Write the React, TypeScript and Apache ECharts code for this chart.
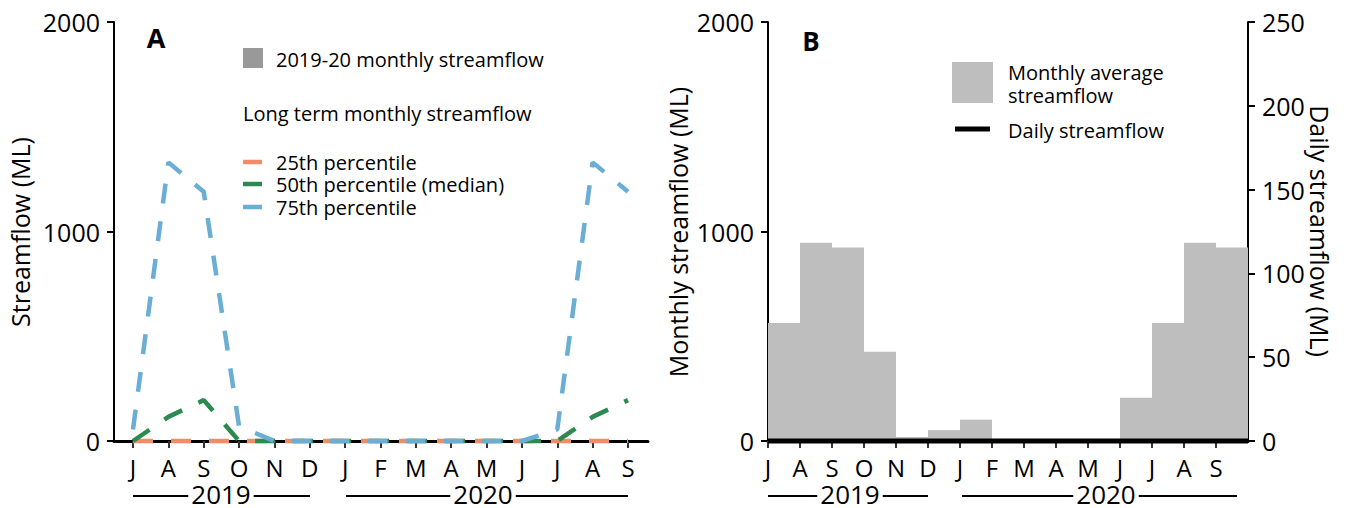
import React, { useEffect, useRef } from "react";
import * as echarts from "echarts";

// ---------- data ----------
const months = ["J", "A", "S", "O", "N", "D", "J", "F", "M", "A", "M", "J", "J", "A", "S"];
// Panel A: long term monthly streamflow percentiles (ML), Jul 2019 .. Sep 2020
const p25 = [0, 0, 0, 0, 0, 0, 0, 0, 0, 0, 0, 0, 0, 0, 0];
const p50 = [0, 115, 195, 0, 0, 0, 0, 0, 0, 0, 0, 0, 0, 115, 195];
const p75 = [55, 1330, 1190, 70, 0, 0, 0, 0, 0, 0, 0, 0, 55, 1330, 1190];
// Panel B: monthly average streamflow (ML), month-long bars Jul 2019 .. Sep 2020
const monthlyAvg = [563, 946, 924, 426, 19, 52, 102, 0, 0, 0, 0, 207, 563, 946, 924];
// Panel B: daily streamflow (ML), read at month boundaries
const dailyFlow = [0, 0, 0, 0, 0, 0, 0, 0, 0, 0, 0, 0, 0, 0, 0, 0];
const years = ["2019", "2020"];

const FONT = "Open Sans";
const C25 = "#f08c66";
const C50 = "#2c8a50";
const C75 = "#6aaed6";

export default function App() {
  const ref = useRef<HTMLDivElement>(null);

  useEffect(() => {
    if (!ref.current) return;
    const chart = echarts.init(ref.current, undefined, { renderer: "svg" });

    const top = 22;
    const h = 419;
    // Panel A geometry
    const aLeft = 114, aRight = 648, aFirst = 133, aLast = 628;
    // Panel B geometry
    const bLeft = 768, bStep = 32;
    const bRight = bLeft + 15 * bStep;

    const dash = [20, 18];
    const hiddenAxis = { show: false };
    const plain = (v: number) => String(v);

    const leftY = (gridIndex: number) => ({
      type: "value", gridIndex, min: 0, max: 2000, interval: 1000,
      axisLine: { show: true, lineStyle: { color: "#000", width: 2 } },
      axisTick: { show: true, length: 7, lineStyle: { color: "#000", width: 2 } },
      axisLabel: { color: "#000", fontSize: 25, fontFamily: FONT, margin: 14, formatter: plain },
      splitLine: { show: false },
    });

    const monthAxis = (gridIndex: number) => ({
      type: "category", gridIndex, data: months, boundaryGap: false,
      axisLine: { show: false },
      axisTick: { show: true, length: 7, lineStyle: { color: "#333", width: 2 } },
      axisLabel: { color: "#000", fontSize: 24, lineHeight: 22, fontFamily: FONT, margin: 15, interval: 0 },
      splitLine: { show: false },
    });

    const yearGraphic = (x1: number, x2: number, cx: number, label: string) => [
      { type: "line", shape: { x1, y1: 496, x2, y2: 496 }, style: { stroke: "#000", lineWidth: 2 }, silent: true },
      {
        type: "text", x: cx, y: 494, silent: true,
        style: {
          text: label, fontSize: 26, lineHeight: 20, fontFamily: FONT, fill: "#000",
          align: "center", verticalAlign: "middle", backgroundColor: "#fff", padding: [0, 3],
        },
      },
    ];

    const txt = (x: number, y: number, text: string, extra: any = {}) => ({
      type: "text", x, y, silent: true,
      style: { text, fontSize: 20, lineHeight: 20, fontFamily: FONT, fill: "#000", align: "left", verticalAlign: "middle", ...extra },
    });

    const option: any = {
      animation: false,
      backgroundColor: "#fff",
      grid: [
        { left: aLeft, top, width: aRight - aLeft, height: h }, // 0 A frame
        { left: aFirst, top, width: aLast - aFirst, height: h }, // 1 A data
        { left: bLeft, top, width: bRight - bLeft, height: h }, // 2 B frame + bars
        { left: bLeft, top, width: 14 * bStep, height: h }, // 3 B month ticks
      ],
      xAxis: [
        {
          type: "value", gridIndex: 0, min: 0, max: 1,
          axisLine: { show: true, lineStyle: { color: "#000", width: 3 } },
          axisTick: { show: false }, axisLabel: { show: false }, splitLine: { show: false },
        },
        monthAxis(1),
        {
          type: "category", gridIndex: 2, data: months, boundaryGap: true, position: "bottom",
          axisLine: { show: true, lineStyle: { color: "#000", width: 3 } },
          axisTick: { show: false }, axisLabel: { show: false }, splitLine: { show: false },
        },
        monthAxis(3),
        { type: "value", gridIndex: 2, min: 0, max: 15, position: "top", ...hiddenAxis },
      ],
      yAxis: [
        leftY(0),
        { type: "value", gridIndex: 1, min: 0, max: 2000, ...hiddenAxis },
        leftY(2),
        {
          type: "value", gridIndex: 2, min: 0, max: 250, interval: 50, position: "right",
          axisLine: { show: true, lineStyle: { color: "#000", width: 2 } },
          axisTick: { show: true, length: 7, lineStyle: { color: "#000", width: 2 } },
          axisLabel: { color: "#000", fontSize: 25, fontFamily: FONT, margin: 14, formatter: plain },
          splitLine: { show: false },
        },
        { type: "value", gridIndex: 3, min: 0, max: 2000, ...hiddenAxis },
      ],
      series: [
        {
          name: "25th percentile", type: "line", xAxisIndex: 1, yAxisIndex: 1, data: p25,
          symbol: "none", clip: false, lineStyle: { color: C25, width: 4.5, type: dash }, z: 3,
        },
        {
          name: "50th percentile (median)", type: "line", xAxisIndex: 1, yAxisIndex: 1, data: p50,
          symbol: "none", clip: false, lineStyle: { color: C50, width: 4.5, type: dash }, z: 4,
        },
        {
          name: "75th percentile", type: "line", xAxisIndex: 1, yAxisIndex: 1, data: p75,
          symbol: "none", clip: false, lineStyle: { color: C75, width: 4.5, type: dash }, z: 5,
        },
        {
          name: "Monthly average streamflow", type: "bar", xAxisIndex: 2, yAxisIndex: 2, data: monthlyAvg,
          barWidth: "100%", barGap: "0%", itemStyle: { color: "#bebebe" }, z: 2,
        },
        {
          name: "Daily streamflow", type: "line", xAxisIndex: 4, yAxisIndex: 3,
          data: dailyFlow.map((v, i) => [i, v]),
          symbol: "none", clip: false, lineStyle: { color: "#000", width: 5 }, z: 6,
        },
      ],
      graphic: [
        // panel letters
        { type: "text", x: 156, y: 37, silent: true, style: { text: "A", fontSize: 27, fontWeight: "bold", fontFamily: FONT, fill: "#000", align: "center", verticalAlign: "middle" } },
        { type: "text", x: 811, y: 41, silent: true, style: { text: "B", fontSize: 26, fontWeight: "bold", fontFamily: FONT, fill: "#000", align: "center", verticalAlign: "middle" } },
        // axis titles
        { type: "text", x: 20, y: 232, rotation: Math.PI / 2, silent: true, style: { text: "Streamflow (ML)", fontSize: 25, fontFamily: FONT, fill: "#000", align: "center", verticalAlign: "middle" } },
        { type: "text", x: 678, y: 232, rotation: Math.PI / 2, silent: true, style: { text: "Monthly streamflow (ML)", fontSize: 25, fontFamily: FONT, fill: "#000", align: "center", verticalAlign: "middle" } },
        { type: "text", x: 1320, y: 231, rotation: -Math.PI / 2, silent: true, style: { text: "Daily streamflow (ML)", fontSize: 25, fontFamily: FONT, fill: "#000", align: "center", verticalAlign: "middle" } },
        // legend A
        { type: "rect", shape: { x: 243, y: 48, width: 20, height: 20 }, style: { fill: "#999999" }, silent: true },
        txt(276, 59, "2019-20 monthly streamflow"),
        txt(243, 113, "Long term monthly streamflow"),
        { type: "line", shape: { x1: 243, y1: 162, x2: 262, y2: 162 }, style: { stroke: C25, lineWidth: 4.5 }, silent: true },
        { type: "line", shape: { x1: 243, y1: 184, x2: 262, y2: 184 }, style: { stroke: C50, lineWidth: 4.5 }, silent: true },
        { type: "line", shape: { x1: 243, y1: 207, x2: 262, y2: 207 }, style: { stroke: C75, lineWidth: 4.5 }, silent: true },
        txt(276, 162, "25th percentile"),
        txt(276, 184, "50th percentile (median)"),
        txt(276, 207, "75th percentile"),
        // legend B
        { type: "rect", shape: { x: 952, y: 62, width: 41, height: 41 }, style: { fill: "#bebebe" }, silent: true },
        txt(1008, 72, "Monthly average"),
        txt(1008, 95, "streamflow"),
        { type: "line", shape: { x1: 955, y1: 129, x2: 990, y2: 129 }, style: { stroke: "#000", lineWidth: 5 }, silent: true },
        txt(1008, 130, "Daily streamflow"),
        // year labels
        ...yearGraphic(133, 310, 221, years[0]),
        ...yearGraphic(346, 628, 483, years[1]),
        ...yearGraphic(768, 928, 850, years[0]),
        ...yearGraphic(962, 1237, 1106, years[1]),
      ],
    };

    chart.setOption(option);
    return () => chart.dispose();
  }, []);

  return (
    <div
      ref={ref}
      style={{ position: "absolute", left: 0, top: 0, width: 1346, height: 508, background: "#fff" }}
    />
  );
}
